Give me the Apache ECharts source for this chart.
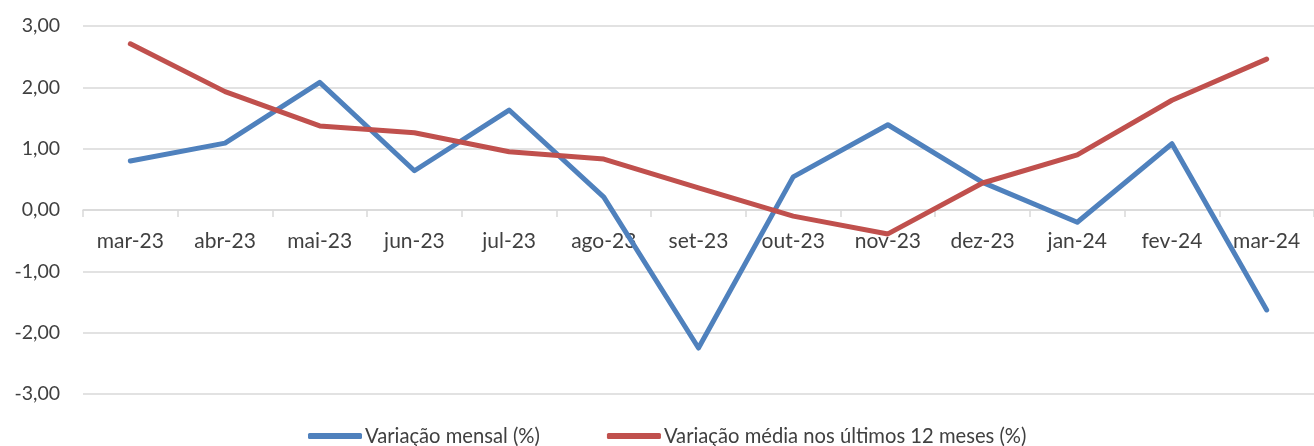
<!DOCTYPE html>
<html><head><meta charset="utf-8">
<script src="https://cdn.jsdelivr.net/npm/echarts@6/dist/echarts.min.js"></script>
<style>html,body{margin:0;padding:0;background:#fff}#c{width:1314px;height:446px}</style>
</head><body><div id="c"></div>
<script>
const categories = ['mar-23','abr-23','mai-23','jun-23','jul-23','ago-23','set-23','out-23','nov-23','dez-23','jan-24','fev-24','mar-24'];
const mensal = [0.80, 1.09, 2.08, 0.64, 1.63, 0.21, -2.25, 0.54, 1.39, 0.45, -0.20, 1.08, -1.63];
const media12 = [2.71, 1.93, 1.37, 1.26, 0.95, 0.83, 0.36, -0.10, -0.39, 0.44, 0.90, 1.79, 2.46];
const seriesNames = ['Variação mensal (%)', 'Variação média nos últimos 12 meses (%)'];
const yTicks = { min: -3, max: 3, interval: 1 };

const font = 'Lato, "Open Sans", sans-serif';
const gridTop = 26, gridBottom = 52, H = 446;
const plotH = H - gridTop - gridBottom;
const zeroOffset = -plotH * (0 - yTicks.min) / (yTicks.max - yTicks.min);

const chart = echarts.init(document.getElementById('c'));
chart.setOption({
  animation: false,
  grid: { left: 83, right: 0, top: gridTop, bottom: gridBottom, containLabel: false },
  legend: {
    bottom: -5, left: 303, itemGap: 67, itemWidth: 54, itemHeight: 6, icon: 'roundRect',
    textStyle: { fontFamily: font, fontSize: 20.2, color: '#404040', padding: [0, 0, 0, -2] },
    data: seriesNames
  },
  xAxis: {
    type: 'category', data: categories, boundaryGap: true, offset: zeroOffset,
    axisLine: { onZero: false, lineStyle: { color: '#d9d9d9', width: 1.5 } },
    axisTick: { show: true, length: 7, lineStyle: { color: '#d9d9d9', width: 1.5 } },
    axisLabel: { fontFamily: font, fontSize: 21, color: '#404040', margin: 21, interval: 0 }
  },
  yAxis: {
    type: 'value', min: yTicks.min, max: yTicks.max, interval: yTicks.interval,
    axisLine: { show: false }, axisTick: { show: false },
    splitLine: { lineStyle: { color: '#d9d9d9', width: 1.5 } },
    axisLabel: { fontFamily: font, fontSize: 19.5, color: '#404040', margin: 23,
      formatter: v => v.toFixed(2).replace('.', ',') }
  },
  series: [
    { name: seriesNames[0], type: 'line', data: mensal, symbol: 'none',
      lineStyle: { color: '#4f81bd', width: 5, cap: 'round', join: 'round' }, itemStyle: { color: '#4f81bd' } },
    { name: seriesNames[1], type: 'line', data: media12, symbol: 'none',
      lineStyle: { color: '#c0504d', width: 5, cap: 'round', join: 'round' }, itemStyle: { color: '#c0504d' } }
  ]
});
</script></body></html>
